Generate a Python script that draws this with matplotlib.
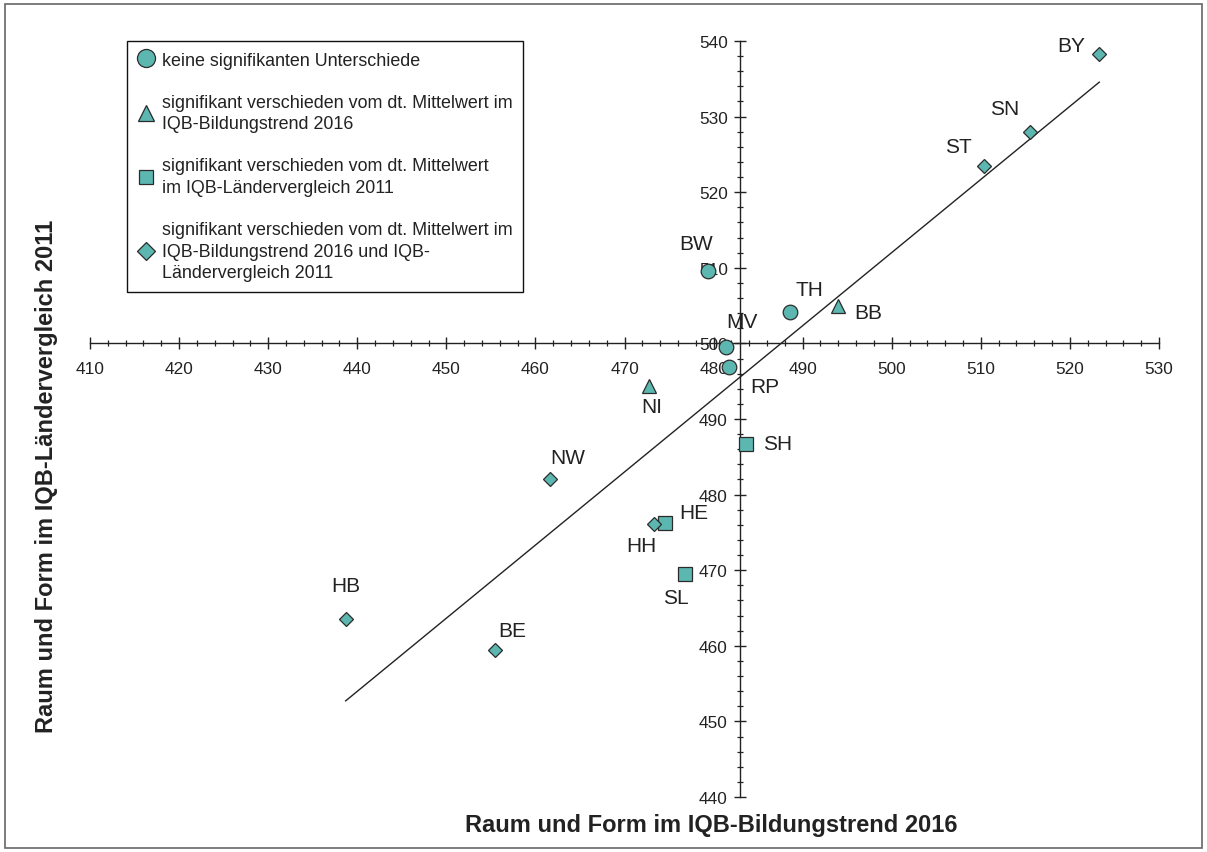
import matplotlib
matplotlib.use("Agg")

import matplotlib.pyplot as plt
import numpy as np
from matplotlib.lines import Line2D
from matplotlib.patches import Rectangle
from matplotlib.ticker import MultipleLocator

plt.rcParams["font.family"] = ["Liberation Sans", "DejaVu Sans"]

# Länder, Mittelwerte Raum und Form (x: Bildungstrend 2016, y: Ländervergleich 2011)
laender = ["BY", "SN", "ST", "TH", "BB", "MV", "RP", "BW",
           "NI", "SH", "HE", "HH", "SL", "NW", "HB", "BE"]
bt2016 = [523.3, 515.5, 510.4, 488.6, 494.0, 481.4, 481.7, 479.4,
          472.7, 483.6, 474.6, 473.3, 476.8, 461.6, 438.7, 455.5]
lv2011 = [538.3, 528.0, 523.5, 504.1, 505.0, 499.5, 496.9, 509.6,
          494.3, 486.7, 476.3, 476.1, 469.5, 482.0, 463.6, 459.4]
# 0 = keine, 1 = BT 2016, 2 = LV 2011, 3 = beide
gruppe = [3, 3, 3, 0, 1, 0, 0, 0, 1, 2, 2, 3, 2, 3, 3, 3]

gruppen_labels = [
    "keine signifikanten Unterschiede",
    "signifikant verschieden vom dt. Mittelwert im\nIQB-Bildungstrend 2016",
    "signifikant verschieden vom dt. Mittelwert\nim IQB-Ländervergleich 2011",
    "signifikant verschieden vom dt. Mittelwert im\nIQB-Bildungstrend 2016 und IQB-\nLändervergleich 2011",
]
mittel_x, mittel_y = 483, 500

FILL = "#5db7b1"
EDGE = "#2b2b2b"
marker = {0: ("o", 10.5), 1: ("^", 10), 2: ("s", 10), 3: ("D", 7.6)}
legend_size = {0: 13, 1: 12, 2: 9.5, 3: 9}

# label offsets in pixels (right, up)
offsets = {
    "BY": (-28, 8), "SN": (-25, 23), "ST": (-26, 19), "TH": (19, 23),
    "BB": (30, -7), "MV": (16, 26), "RP": (36, -20), "BW": (-12, 27),
    "NI": (3, -20), "SH": (32, 0), "HE": (28, 10), "HH": (-13, -21),
    "SL": (-9, -24), "NW": (18, 22), "HB": (0, 33), "BE": (17, 20),
}

fig = plt.figure(figsize=(12.07, 8.53), dpi=100)
ax = fig.add_axes([90 / 1207, 1 - 798 / 853, (1159 - 90) / 1207, (798 - 42) / 853])
ax.set_xlim(410, 530)
ax.set_ylim(440, 540)

# axes cross at the German means
ax.spines["left"].set_position(("data", mittel_x))
ax.spines["bottom"].set_position(("data", mittel_y))
ax.spines["top"].set_visible(False)
ax.spines["right"].set_visible(False)
for s in ("left", "bottom"):
    ax.spines[s].set_color("#222222")
    ax.spines[s].set_linewidth(1.0)

ax.xaxis.set_major_locator(MultipleLocator(10))
ax.xaxis.set_minor_locator(MultipleLocator(2))
ax.yaxis.set_major_locator(MultipleLocator(10))
ax.yaxis.set_minor_locator(MultipleLocator(2))
ax.tick_params(which="major", direction="inout", length=8, width=1.0,
               color="#222222", labelsize=12.4, labelcolor="#222222")
ax.tick_params(which="minor", direction="inout", length=4.8, width=0.9,
               color="#222222")
ax.tick_params(axis="x", which="major", pad=9)
ax.tick_params(axis="y", which="major", pad=5)

# regression line over the data range
bx = np.array(bt2016)
by = np.array(lv2011)
k, d = np.polyfit(bx, by, 1)
xs = np.array([bx.min(), bx.max()])
ax.plot(xs, k * xs + d, color="#222222", lw=1.0, zorder=2)

for g in range(4):
    idx = [i for i, v in enumerate(gruppe) if v == g]
    m, ms = marker[g]
    ax.plot(bx[idx], by[idx], linestyle="none", marker=m, markersize=ms,
            markerfacecolor=FILL, markeredgecolor=EDGE, markeredgewidth=0.9,
            zorder=3)

for name, x, y in zip(laender, bt2016, lv2011):
    dx, dy = offsets[name]
    ax.annotate(name, (x, y), xytext=(dx * 0.72, dy * 0.72),
                textcoords="offset points", ha="center", va="center",
                fontsize=15, color="#222222", zorder=4)

handles = [Line2D([], [], linestyle="none", marker=marker[g][0],
                  markersize=legend_size[g], markerfacecolor=FILL,
                  markeredgecolor=EDGE, markeredgewidth=0.9)
           for g in range(4)]
leg = ax.legend(handles, gruppen_labels, loc="upper left",
                bbox_to_anchor=(127 / 1207, 1 - 42 / 853),
                bbox_transform=fig.transFigure, borderaxespad=0,
                fontsize=12.9, handlelength=0.9, handletextpad=0.45,
                labelspacing=1.4, borderpad=0.6, fancybox=False,
                framealpha=1, edgecolor="#111111")
leg.get_frame().set_linewidth(1.0)
for t in leg.get_texts():
    t.set_linespacing(1.35)
    t.set_color("#222222")

fig.text(711 / 1207, 1 - 826 / 853, "Raum und Form im IQB-Bildungstrend 2016",
         ha="center", va="center", fontsize=17, fontweight="bold",
         color="#222222")
fig.text(47 / 1207, 1 - 476 / 853, "Raum und Form im IQB-Ländervergleich 2011",
         ha="center", va="center", rotation=90, fontsize=17,
         fontweight="bold", color="#222222")

# outer frame
fig.patches.append(Rectangle((5 / 1207, 4 / 853), 1197 / 1207, 844 / 853,
                             transform=fig.transFigure, fill=False,
                             edgecolor="#666666", linewidth=1.2))

fig.savefig("out.png", dpi=100)
